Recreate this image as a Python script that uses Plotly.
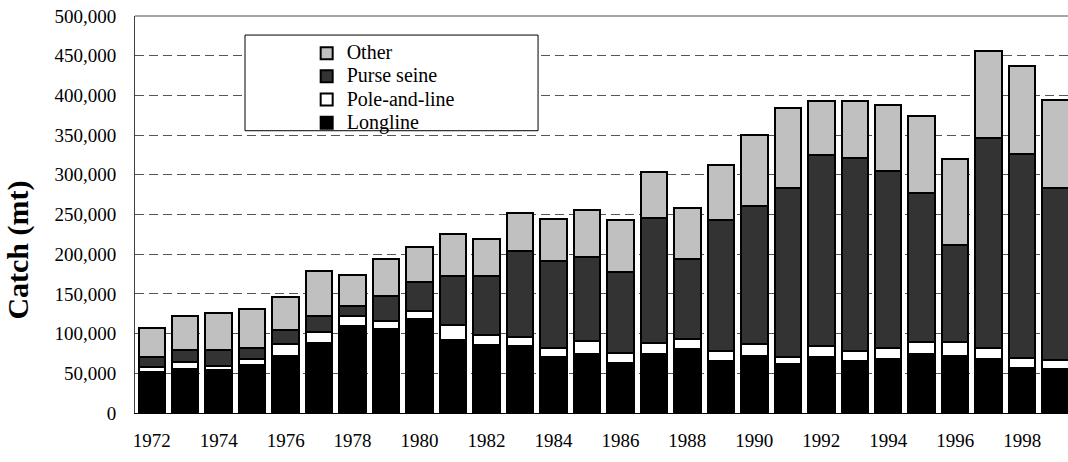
import plotly.graph_objects as go

years = list(range(1972, 2000))
longline = [52, 56, 54, 61, 72, 88, 110, 105.5, 119, 92, 86, 84, 70, 74.5, 63, 74.5,
            80.5, 66, 72, 61.5, 70, 66, 67.5, 74.5, 72, 68, 57, 55]
pole_and_line = [5.5, 8, 5.5, 7.5, 14.5, 13.5, 12, 10.5, 10, 19, 12.5, 11.5, 11.5, 16.5, 12, 14,
                 13, 11.5, 14.5, 9.5, 14.5, 12.5, 14.5, 14.5, 17, 13.5, 12, 12]
purse_seine = [13.5, 15, 20, 14, 18, 21, 13, 31, 35.5, 62, 73.5, 108, 110.5, 105, 103, 156.5,
               101, 166, 174.5, 212, 241, 242.5, 223, 188, 123, 264.5, 257, 216]
other = [36, 43, 47, 49, 41, 56, 38.5, 47.5, 45, 52, 47, 48.5, 52.5, 60, 65, 58,
         64, 69, 89, 101, 67, 71.5, 82.5, 97.5, 108.5, 110.5, 110.5, 111.5]

def k(v):
    return [x * 1000 for x in v]

series = [
    ("Longline", longline, "#000000"),
    ("Pole-and-line", pole_and_line, "#ffffff"),
    ("Purse seine", purse_seine, "#333333"),
    ("Other", other, "#c0c0c0"),
]

FONT = "Liberation Serif, Times New Roman, serif"

fig = go.Figure()
for name, vals, col in series:
    fig.add_trace(go.Bar(
        x=years, y=k(vals), name="<span style='font-size:20px'>" + name + "</span>",
        hovertemplate=name + " %{x}: %{y:,}<extra></extra>",
        marker=dict(color=col, line=dict(color="#000000", width=2)),
    ))

fig.update_layout(
    width=1068, height=462,
    barmode="stack", bargap=0.21,
    plot_bgcolor="#ffffff", paper_bgcolor="#ffffff",
    margin=dict(l=135, r=0, t=16, b=49),
    font=dict(family=FONT, size=19, color="#000000"),
    showlegend=True,
    legend=dict(
        traceorder="reversed",
        x=0.184, y=0.948, xanchor="left", yanchor="top",
        bgcolor="rgba(0,0,0,0)", borderwidth=0,
        font=dict(family=FONT, size=15.5, color="#000000"),
        tracegroupgap=0, itemwidth=30,
    ),
    xaxis=dict(
        range=[1971.5, 1999.37], tickmode="linear", tick0=1972, dtick=2,
        showgrid=False, showline=True, linecolor="#000000", linewidth=1,
        ticks="", ticklabelstandoff=10, zeroline=False,
        tickfont=dict(family=FONT, size=19),
    ),
    yaxis=dict(
        range=[0, 500000], tickmode="linear", tick0=0, dtick=50000,
        tickformat=",d", showgrid=True, gridcolor="#555555", gridwidth=1,
        griddash="9px,5px", showline=True, linecolor="#404040", linewidth=1,
        ticks="", ticklabelstandoff=14, zeroline=False,
        tickfont=dict(family=FONT, size=19),
    ),
    shapes=[
        dict(type="line", xref="paper", yref="paper", x0=0, x1=1, y0=1, y1=1,
             line=dict(color="#888888", width=1.5), layer="above"),
        dict(type="rect", xref="paper", yref="paper", x0=0.1179, x1=0.432,
             y0=0.711, y1=0.952, line=dict(color="#000000", width=1),
             fillcolor="#ffffff", layer="above"),
    ],
    annotations=[
        dict(text="<b>Catch (mt)</b>", xref="paper", yref="paper",
             x=-0.125, y=0.41, xanchor="center", yanchor="middle",
             textangle=-90, showarrow=False,
             font=dict(family=FONT, size=30, color="#000000")),
    ],
)

fig.write_html("out.html", post_script="document.body.style.margin='0';",
               config={"displayModeBar": False})
